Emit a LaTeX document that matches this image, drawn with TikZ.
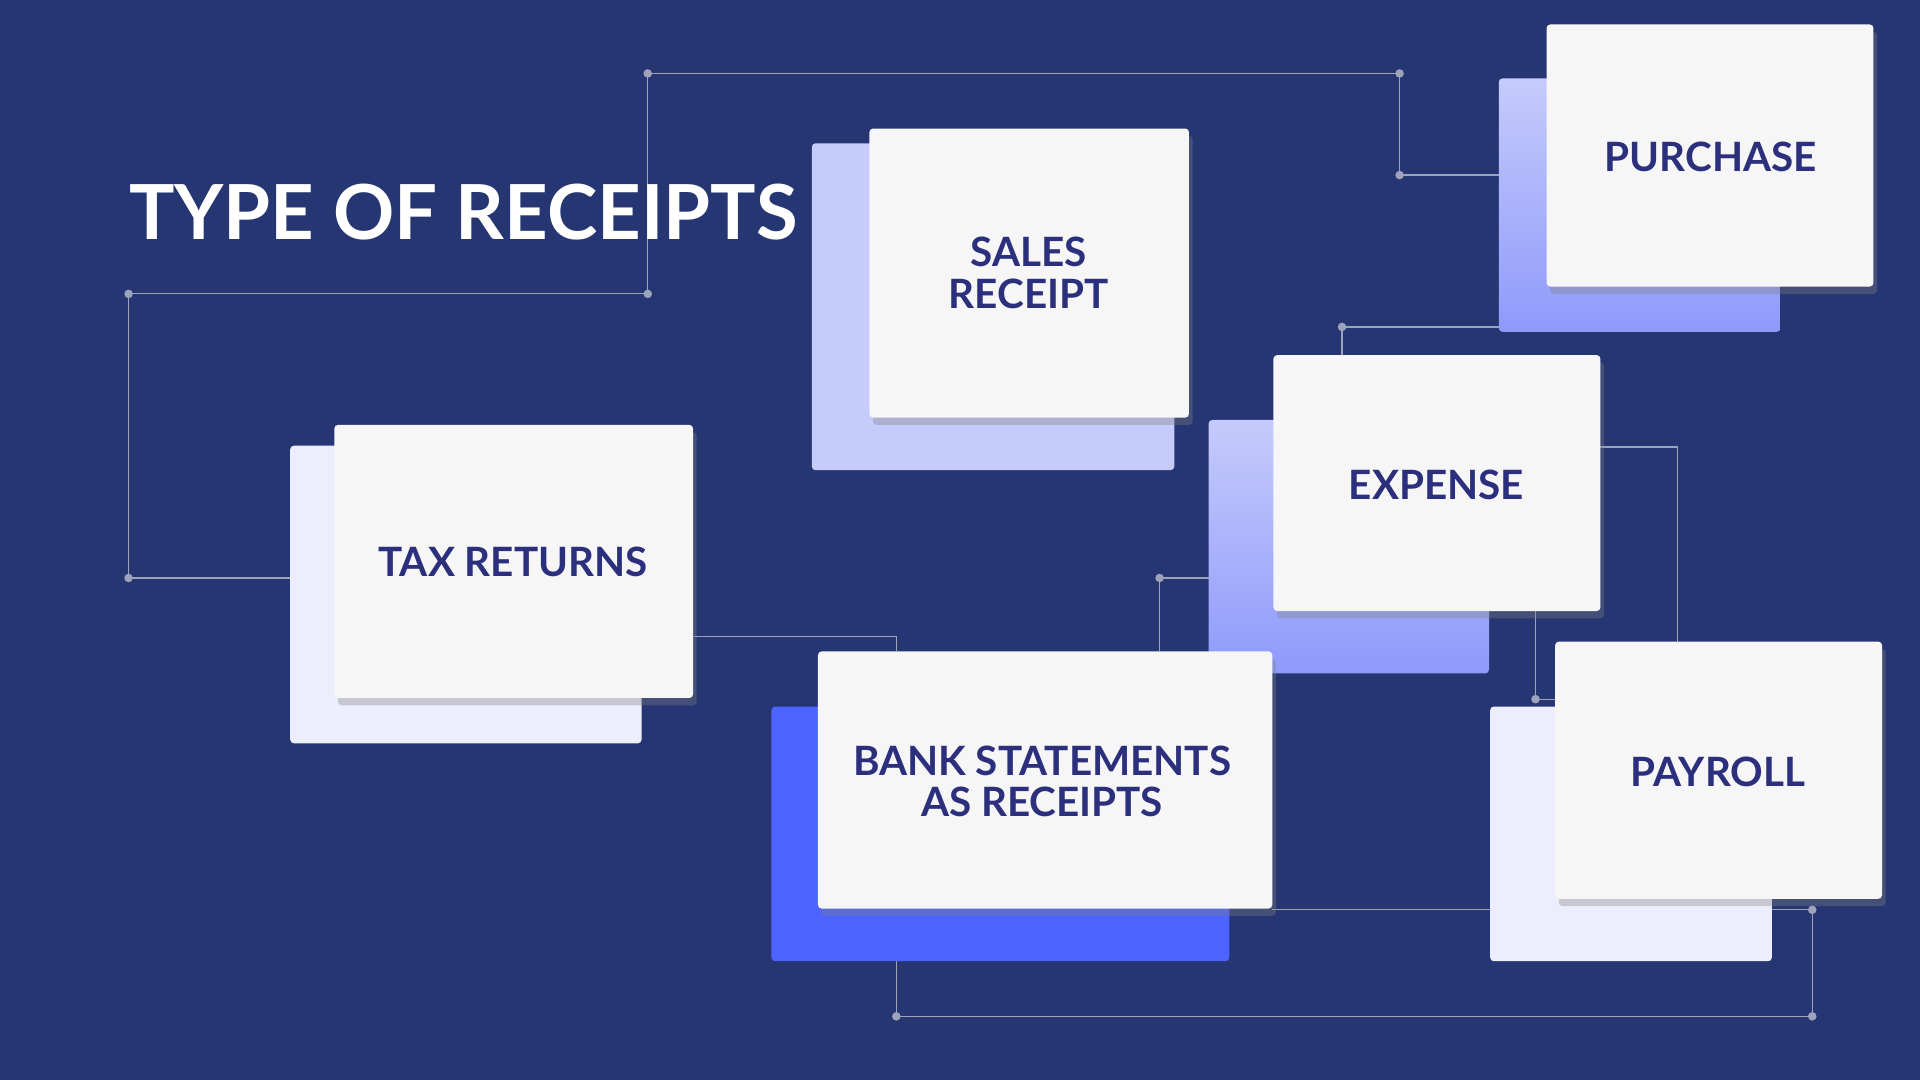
\documentclass[tikz,border=0pt]{standalone}
\usepackage{fontspec}
\setmainfont{Lato}
\usetikzlibrary{shadows}
\definecolor{bg}{HTML}{263673}
\definecolor{txt}{HTML}{2B2F7C}
\definecolor{lav}{HTML}{C5CBFB}
\definecolor{lavd}{HTML}{8E9AFB}
\definecolor{pale}{HTML}{ECEEFD}
\definecolor{blu}{HTML}{4C63FD}
\definecolor{card}{HTML}{F6F6F7}
\definecolor{ln}{HTML}{9EA3BC}
\begin{document}
\begin{tikzpicture}[x=1pt,y=-1pt,
  front/.style={fill=card,rounded corners=3pt,drop shadow={shadow xshift=3pt,shadow yshift=-6pt,opacity=0.35}},
  backc/.style={rounded corners=3pt},
  lbl/.style={text=txt,font=\bfseries\fontsize{33}{40}\selectfont,align=center},
  wire/.style={draw=ln,line width=1pt},
  dot/.style={circle,fill=ln,inner sep=0pt,minimum size=7pt}]
\fill[bg] (0,0) rectangle (1568,882);
\useasboundingbox (0,0) rectangle (1568,882);
% wires
\coordinate (d1) at (105,472); \coordinate (d2) at (105,240); \coordinate (d3) at (529,240);
\coordinate (d4) at (529,60); \coordinate (d5) at (1143,60); \coordinate (d6) at (1143,143);
\coordinate (d7) at (1096,267); \coordinate (d8) at (947,472); \coordinate (d9) at (1254,571);
\coordinate (d10) at (1480,743); \coordinate (d11) at (1480,830); \coordinate (d12) at (732,830);
\draw[wire] (237,472) -- (d1) -- (d2) -- (d3) -- (d4) -- (d5) -- (d6) -- (1224,143);
\draw[wire] (1224,267) -- (d7) -- (1096,290);
\draw[wire] (566,520) -- (732,520) -- (732,532);
\draw[wire] (987,472) -- (d8) -- (947,532);
\draw[wire] (1307,365) -- (1370,365) -- (1370,524);
\draw[wire] (1254,499) -- (d9) -- (1270,571);
\draw[wire] (1039,743) -- (1217,743);
\draw[wire] (1447,743) -- (d10) -- (d11) -- (d12) -- (732,785);
\foreach \d in {d1,d2,d3,d4,d5,d6,d7,d8,d9,d10,d11,d12} \node[dot] at (\d) {};
% title
\node[anchor=west,text=white,font=\bfseries\fontsize{62}{70}\selectfont] (title) at (102,173) {TYPE OF RECEIPTS};
% back cards
\fill[backc,lav] (663,117) rectangle (959,384);
\shade[backc,top color=lav,bottom color=lavd] (1224,64) rectangle (1454,271);
\shade[backc,top color=lav,bottom color=lavd] (987,343) rectangle (1216,550);
\fill[backc,pale] (237,364) rectangle (524,607);
\fill[backc,blu] (630,577) rectangle (1004,785);
\fill[backc,pale] (1217,577) rectangle (1447,785);
% front cards
\filldraw[front,draw=none] (710,105) rectangle (971,341);
\filldraw[front,draw=none] (1263,20) rectangle (1530,234);
\filldraw[front,draw=none] (1040,290) rectangle (1307,499);
\filldraw[front,draw=none] (273,347) rectangle (566,570);
\filldraw[front,draw=none] (668,532) rectangle (1039,742);
\filldraw[front,draw=none] (1270,524) rectangle (1537,734);
\node[lbl] (sales) at (840,223) {SALES\\[-6pt]RECEIPT};
\node[lbl] (purch) at (1397,128) {PURCHASE};
\node[lbl] (exp) at (1173,396) {EXPENSE};
\node[lbl] (tax) at (419,459) {TAX RETURNS};
\node[lbl] (bank) at (851,638) {BANK STATEMENTS\\[-6pt]AS RECEIPTS};
\node[lbl] (pay) at (1403,630) {PAYROLL};
\end{tikzpicture}
\end{document}
